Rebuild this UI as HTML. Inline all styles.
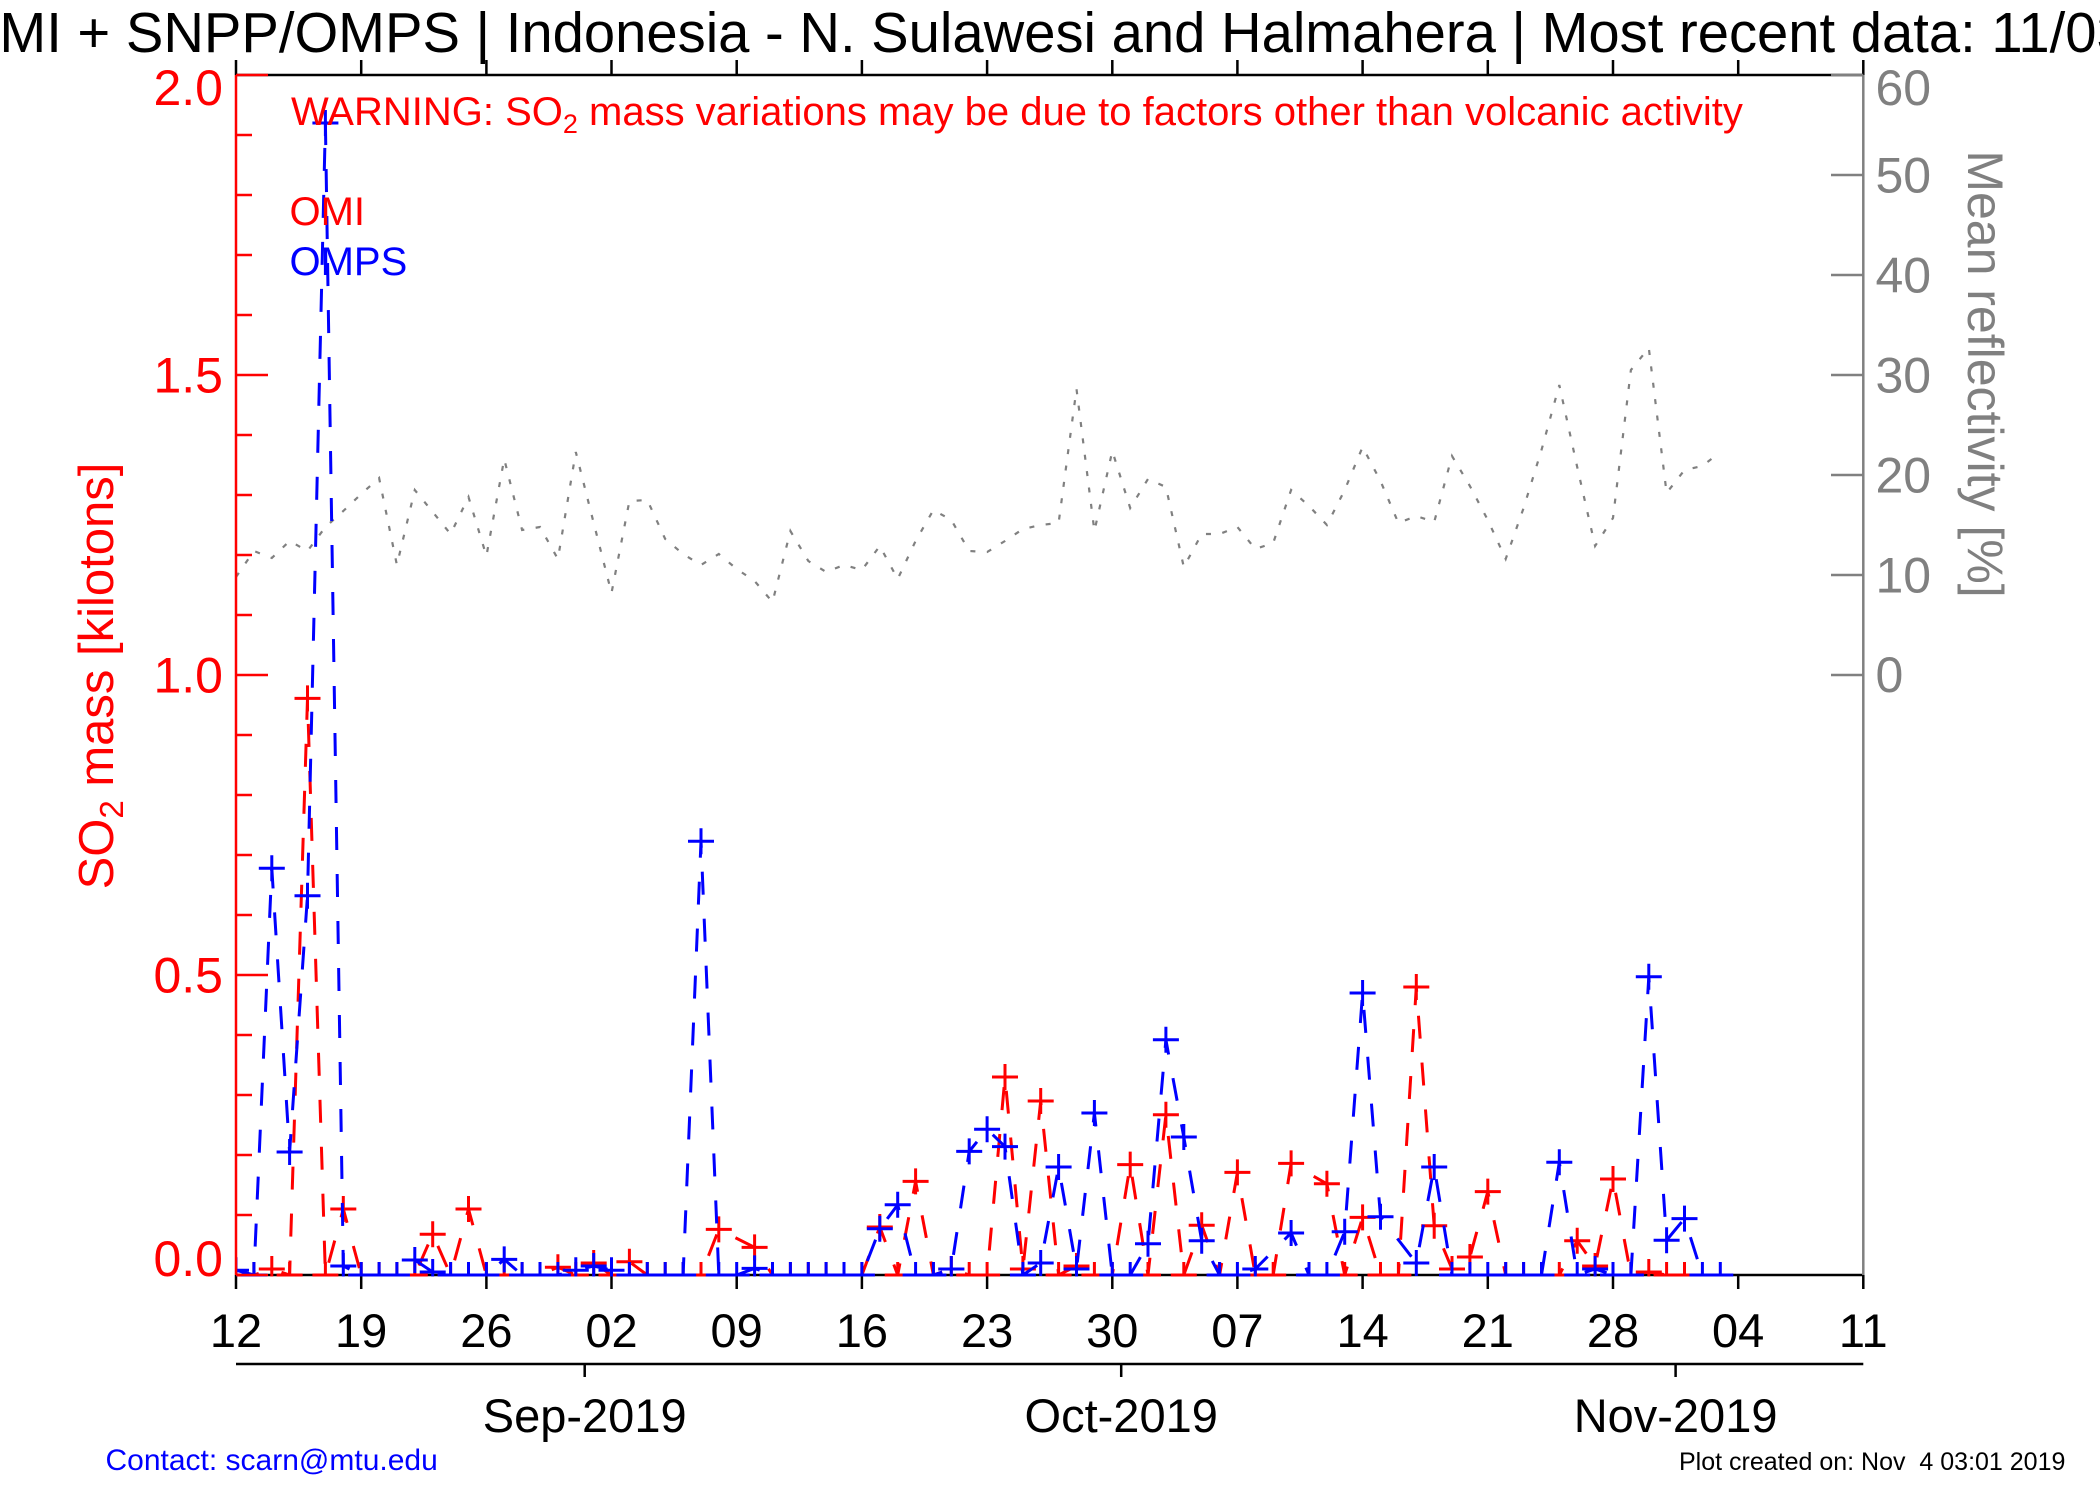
<!DOCTYPE html>
<html>
<head>
<meta charset="utf-8">
<style>
  html, body { margin:0; padding:0; background:#ffffff; }
  body { width:2100px; height:1500px; overflow:hidden; }
  svg { display:block; }
  text { font-family: "Liberation Sans", Arial, Helvetica, sans-serif; }
</style>
</head>
<body>
<svg width="2100" height="1500" viewBox="0 0 2100 1500" xmlns="http://www.w3.org/2000/svg">
  <defs>
    <clipPath id="plotclip">
      <rect x="236" y="75" width="1627" height="1201.5"/>
    </clipPath>
  </defs>
  <rect x="0" y="0" width="2100" height="1500" fill="#ffffff"/>

  <!-- Title -->
  <text x="-44.3" y="52" font-size="56.2" fill="#000">OMI + SNPP/OMPS | Indonesia - N. Sulawesi and Halmahera | Most recent data: 11/03/2019</text>

  <!-- Top axis (black) -->
  <g stroke="#000" stroke-width="2.5" fill="none">
    <line x1="236" y1="75" x2="1863.3" y2="75"/>
    <path d="M236 75V60M361.2 75V60M486.4 75V60M611.5 75V60M736.7 75V60M861.9 75V60M987.1 75V60M1112.3 75V60M1237.4 75V60M1362.6 75V60M1487.8 75V60M1613 75V60M1738.2 75V60M1863.3 75V60"/>
    <!-- Bottom axis -->
    <line x1="236" y1="1275" x2="1863.3" y2="1275"/>
    <path d="M236 1275V1289M361.2 1275V1289M486.4 1275V1289M611.5 1275V1289M736.7 1275V1289M861.9 1275V1289M987.1 1275V1289M1112.3 1275V1289M1237.4 1275V1289M1362.6 1275V1289M1487.8 1275V1289M1613 1275V1289M1738.2 1275V1289M1863.3 1275V1289"/>
    <!-- Month axis -->
    <line x1="236" y1="1364" x2="1863.3" y2="1364"/>
    <path d="M584.7 1364V1377M1121.2 1364V1377M1675.6 1364V1377"/>
  </g>

  <!-- Day labels -->
  <g font-size="47" fill="#000" text-anchor="middle">
    <text x="236" y="1347">12</text>
    <text x="361.2" y="1347">19</text>
    <text x="486.4" y="1347">26</text>
    <text x="611.5" y="1347">02</text>
    <text x="736.7" y="1347">09</text>
    <text x="861.9" y="1347">16</text>
    <text x="987.1" y="1347">23</text>
    <text x="1112.3" y="1347">30</text>
    <text x="1237.4" y="1347">07</text>
    <text x="1362.6" y="1347">14</text>
    <text x="1487.8" y="1347">21</text>
    <text x="1613" y="1347">28</text>
    <text x="1738.2" y="1347">04</text>
    <text x="1863.3" y="1347">11</text>
  </g>
  <!-- Month labels -->
  <g font-size="47" fill="#000" text-anchor="middle">
    <text x="584.7" y="1432">Sep-2019</text>
    <text x="1121.2" y="1432">Oct-2019</text>
    <text x="1675.6" y="1432">Nov-2019</text>
  </g>

  <!-- Data -->
  <g clip-path="url(#plotclip)" fill="none" stroke-linejoin="miter">
    <!-- Reflectivity (gray dotted) -->
    <polyline stroke="#808080" stroke-width="2.2" stroke-dasharray="5 11.5"
      points="236,577 253.9,551 271.8,558 289.6,541 307.5,551 325.4,527 343.3,511 361.2,494 379.1,478 396.9,565 414.8,490 432.7,512 450.6,534 468.5,497 486.4,556 504.2,459 522.1,530 540,527 557.9,559 575.8,452 593.7,523 611.5,593 629.4,501 647.3,500 665.2,539 683.1,554 701,565 718.8,554 736.7,569 754.6,581 772.5,602 790.4,531 808.3,561 826.1,572 844,565 861.9,570 879.8,546 897.7,579 915.6,541 933.4,510 951.3,520 969.2,551 987.1,552 1005,541 1022.9,529 1040.7,525 1058.6,523 1076.5,389 1094.4,531 1112.3,451 1130.2,508 1148,479 1165.9,487 1183.8,567 1201.7,534 1219.6,534 1237.4,527 1255.3,549 1273.2,543 1291.1,490 1309,506 1326.9,525 1344.7,490 1362.6,447 1380.5,481 1398.4,523 1416.3,516 1434.2,522 1452,456 1469.9,486 1487.8,520 1505.7,559 1523.6,508 1541.5,450 1559.3,385 1577.2,467 1595.1,546 1613,518 1630.9,370 1648.8,348 1666.6,493 1684.5,470 1702.4,466 1720.3,452"/>

    <!-- OMI (red dashed) -->
    <polyline stroke="#ff0000" stroke-width="3" stroke-dasharray="23 24"
      points="236,1275 253.9,1275 271.8,1269 289.6,1275 307.5,698.4 325.4,1275 343.3,1209 361.2,1275 379.1,1275 396.9,1275 414.8,1275 432.7,1234.2 450.6,1275 468.5,1209 486.4,1275 504.2,1275 522.1,1275 540,1275 557.9,1267.2 575.8,1275 593.7,1263 611.5,1275 629.4,1261.8 647.3,1275 665.2,1275 683.1,1275 701,1275 718.8,1229.4 754.6,1247.4 772.5,1275 790.4,1275 808.3,1275 826.1,1275 844,1275 861.9,1275 879.8,1227 897.7,1275 915.6,1181.4 933.4,1275 951.3,1269 969.2,1275 987.1,1275 1005,1077 1022.9,1269 1040.7,1101 1058.6,1275 1076.5,1266 1094.4,1275 1112.3,1275 1130.2,1164.6 1148,1275 1165.9,1114.8 1183.8,1275 1201.7,1225.2 1219.6,1275 1237.4,1172.4 1255.3,1275 1273.2,1275 1291.1,1163.4 1326.9,1183.8 1344.7,1275 1362.6,1217.4 1380.5,1275 1398.4,1275 1416.3,987 1434.2,1225.8 1452,1269 1469.9,1257 1487.8,1191.6 1505.7,1275 1523.6,1275 1541.5,1275 1559.3,1275 1577.2,1240.8 1595.1,1266 1613,1179 1630.9,1275 1648.8,1272 1666.6,1275 1684.5,1275"/>
    <path stroke="#ff0000" stroke-width="3" d="M223 1275h26m-13-13v26M240.9 1275h26m-13-13v26M258.8 1269h26m-13-13v26M276.6 1275h26m-13-13v26M294.5 698.4h26m-13-13v26M312.4 1275h26m-13-13v26M330.3 1209h26m-13-13v26M348.2 1275h26m-13-13v26M366.1 1275h26m-13-13v26M383.9 1275h26m-13-13v26M401.8 1275h26m-13-13v26M419.7 1234.2h26m-13-13v26M437.6 1275h26m-13-13v26M455.5 1209h26m-13-13v26M473.4 1275h26m-13-13v26M491.2 1275h26m-13-13v26M509.1 1275h26m-13-13v26M527 1275h26m-13-13v26M544.9 1267.2h26m-13-13v26M562.8 1275h26m-13-13v26M580.7 1263h26m-13-13v26M598.5 1275h26m-13-13v26M616.4 1261.8h26m-13-13v26M634.3 1275h26m-13-13v26M652.2 1275h26m-13-13v26M670.1 1275h26m-13-13v26M688 1275h26m-13-13v26M705.8 1229.4h26m-13-13v26M741.6 1247.4h26m-13-13v26M759.5 1275h26m-13-13v26M777.4 1275h26m-13-13v26M795.3 1275h26m-13-13v26M813.1 1275h26m-13-13v26M831 1275h26m-13-13v26M848.9 1275h26m-13-13v26M866.8 1227h26m-13-13v26M884.7 1275h26m-13-13v26M902.6 1181.4h26m-13-13v26M920.4 1275h26m-13-13v26M938.3 1269h26m-13-13v26M956.2 1275h26m-13-13v26M974.1 1275h26m-13-13v26M992 1077h26m-13-13v26M1009.9 1269h26m-13-13v26M1027.7 1101h26m-13-13v26M1045.6 1275h26m-13-13v26M1063.5 1266h26m-13-13v26M1081.4 1275h26m-13-13v26M1099.3 1275h26m-13-13v26M1117.2 1164.6h26m-13-13v26M1135 1275h26m-13-13v26M1152.9 1114.8h26m-13-13v26M1170.8 1275h26m-13-13v26M1188.7 1225.2h26m-13-13v26M1206.6 1275h26m-13-13v26M1224.4 1172.4h26m-13-13v26M1242.3 1275h26m-13-13v26M1260.2 1275h26m-13-13v26M1278.1 1163.4h26m-13-13v26M1313.9 1183.8h26m-13-13v26M1331.7 1275h26m-13-13v26M1349.6 1217.4h26m-13-13v26M1367.5 1275h26m-13-13v26M1385.4 1275h26m-13-13v26M1403.3 987h26m-13-13v26M1421.2 1225.8h26m-13-13v26M1439 1269h26m-13-13v26M1456.9 1257h26m-13-13v26M1474.8 1191.6h26m-13-13v26M1492.7 1275h26m-13-13v26M1510.6 1275h26m-13-13v26M1528.5 1275h26m-13-13v26M1546.3 1275h26m-13-13v26M1564.2 1240.8h26m-13-13v26M1582.1 1266h26m-13-13v26M1600 1179h26m-13-13v26M1617.9 1275h26m-13-13v26M1635.8 1272h26m-13-13v26M1653.6 1275h26m-13-13v26M1671.5 1275h26m-13-13v26"/>

    <!-- OMPS (blue dashed) -->
    <polyline stroke="#0000ff" stroke-width="3" stroke-dasharray="23 24"
      points="236,1270.2 253.9,1275 271.8,868.2 289.6,1152 307.5,895.8 325.4,123 343.3,1266 361.2,1275 379.1,1275 396.9,1275 414.8,1260 432.7,1272 450.6,1275 468.5,1275 486.4,1275 504.2,1259.4 522.1,1275 540,1275 557.9,1275 575.8,1270.2 593.7,1266 611.5,1270.2 629.4,1275 647.3,1275 665.2,1275 683.1,1275 701,841.2 718.8,1275 736.7,1275 754.6,1268.4 772.5,1275 790.4,1275 808.3,1275 826.1,1275 844,1275 861.9,1275 879.8,1228.8 897.7,1204.8 915.6,1275 933.4,1275 951.3,1269 969.2,1151.4 987.1,1129.2 1005,1146.6 1022.9,1275 1040.7,1263 1058.6,1167 1076.5,1269 1094.4,1113 1112.3,1275 1130.2,1275 1148,1243.8 1165.9,1039.8 1183.8,1137 1201.7,1240.8 1219.6,1275 1237.4,1275 1255.3,1269 1291.1,1233 1309,1275 1326.9,1275 1344.7,1231.8 1362.6,993 1380.5,1216.8 1416.3,1263 1434.2,1167 1452,1275 1469.9,1275 1487.8,1275 1505.7,1275 1523.6,1275 1541.5,1275 1559.3,1162.2 1577.2,1275 1595.1,1269 1613,1275 1630.9,1275 1648.8,976.8 1666.6,1240.2 1684.5,1218.6 1702.4,1275 1720.3,1275"/>
    <path stroke="#0000ff" stroke-width="3" d="M223 1270.2h26m-13-13v26M240.9 1275h26m-13-13v26M258.8 868.2h26m-13-13v26M276.6 1152h26m-13-13v26M294.5 895.8h26m-13-13v26M312.4 123h26m-13-13v26M330.3 1266h26m-13-13v26M348.2 1275h26m-13-13v26M366.1 1275h26m-13-13v26M383.9 1275h26m-13-13v26M401.8 1260h26m-13-13v26M419.7 1272h26m-13-13v26M437.6 1275h26m-13-13v26M455.5 1275h26m-13-13v26M473.4 1275h26m-13-13v26M491.2 1259.4h26m-13-13v26M509.1 1275h26m-13-13v26M527 1275h26m-13-13v26M544.9 1275h26m-13-13v26M562.8 1270.2h26m-13-13v26M580.7 1266h26m-13-13v26M598.5 1270.2h26m-13-13v26M616.4 1275h26m-13-13v26M634.3 1275h26m-13-13v26M652.2 1275h26m-13-13v26M670.1 1275h26m-13-13v26M688 841.2h26m-13-13v26M705.8 1275h26m-13-13v26M723.7 1275h26m-13-13v26M741.6 1268.4h26m-13-13v26M759.5 1275h26m-13-13v26M777.4 1275h26m-13-13v26M795.3 1275h26m-13-13v26M813.1 1275h26m-13-13v26M831 1275h26m-13-13v26M848.9 1275h26m-13-13v26M866.8 1228.8h26m-13-13v26M884.7 1204.8h26m-13-13v26M902.6 1275h26m-13-13v26M920.4 1275h26m-13-13v26M938.3 1269h26m-13-13v26M956.2 1151.4h26m-13-13v26M974.1 1129.2h26m-13-13v26M992 1146.6h26m-13-13v26M1009.9 1275h26m-13-13v26M1027.7 1263h26m-13-13v26M1045.6 1167h26m-13-13v26M1063.5 1269h26m-13-13v26M1081.4 1113h26m-13-13v26M1099.3 1275h26m-13-13v26M1117.2 1275h26m-13-13v26M1135 1243.8h26m-13-13v26M1152.9 1039.8h26m-13-13v26M1170.8 1137h26m-13-13v26M1188.7 1240.8h26m-13-13v26M1206.6 1275h26m-13-13v26M1224.4 1275h26m-13-13v26M1242.3 1269h26m-13-13v26M1278.1 1233h26m-13-13v26M1296 1275h26m-13-13v26M1313.9 1275h26m-13-13v26M1331.7 1231.8h26m-13-13v26M1349.6 993h26m-13-13v26M1367.5 1216.8h26m-13-13v26M1403.3 1263h26m-13-13v26M1421.2 1167h26m-13-13v26M1439 1275h26m-13-13v26M1456.9 1275h26m-13-13v26M1474.8 1275h26m-13-13v26M1492.7 1275h26m-13-13v26M1510.6 1275h26m-13-13v26M1528.5 1275h26m-13-13v26M1546.3 1162.2h26m-13-13v26M1564.2 1275h26m-13-13v26M1582.1 1269h26m-13-13v26M1600 1275h26m-13-13v26M1617.9 1275h26m-13-13v26M1635.8 976.8h26m-13-13v26M1653.6 1240.2h26m-13-13v26M1671.5 1218.6h26m-13-13v26M1689.4 1275h26m-13-13v26M1707.3 1275h26m-13-13v26"/>
  </g>

  <!-- Left axis (red) -->
  <g stroke="#ff0000" stroke-width="2.5" fill="none">
    <line x1="236" y1="75" x2="236" y2="1275"/>
    <path d="M236 75H268M236 375H268M236 675H268M236 975H268M236 1275H268"/>
    <path d="M236 135H252M236 195H252M236 255H252M236 315H252M236 435H252M236 495H252M236 555H252M236 615H252M236 735H252M236 795H252M236 855H252M236 915H252M236 1035H252M236 1095H252M236 1155H252M236 1215H252"/>
  </g>
  <g font-size="50" fill="#ff0000" text-anchor="end">
    <text x="223" y="105">2.0</text>
    <text x="223" y="392.5">1.5</text>
    <text x="223" y="692.5">1.0</text>
    <text x="223" y="992.5">0.5</text>
    <text x="223" y="1276">0.0</text>
  </g>

  <!-- Right axis (gray) -->
  <g stroke="#808080" stroke-width="2.5" fill="none">
    <line x1="1863.3" y1="75" x2="1863.3" y2="1275"/>
    <path d="M1863.3 75H1831M1863.3 175H1831M1863.3 275H1831M1863.3 375H1831M1863.3 475H1831M1863.3 575H1831M1863.3 675H1831"/>
  </g>
  <g font-size="50" fill="#808080" text-anchor="start">
    <text x="1875.5" y="105">60</text>
    <text x="1875.5" y="192.5">50</text>
    <text x="1875.5" y="292.5">40</text>
    <text x="1875.5" y="392.5">30</text>
    <text x="1875.5" y="492.5">20</text>
    <text x="1875.5" y="592.5">10</text>
    <text x="1875.5" y="692">0</text>
  </g>

  <!-- Axis titles -->
  <text transform="translate(113,676) rotate(-90)" text-anchor="middle" font-size="49" fill="#ff0000">SO<tspan font-size="33" dy="10">2</tspan><tspan dy="-10"> mass [kilotons]</tspan></text>
  <text transform="translate(1968,374) rotate(90)" text-anchor="middle" font-size="50" fill="#808080">Mean reflectivity [%]</text>

  <!-- Warning and legend -->
  <text x="291" y="125" font-size="40" fill="#ff0000">WARNING: SO<tspan font-size="27" dy="8">2</tspan><tspan dy="-8"> mass variations may be due to factors other than volcanic activity</tspan></text>
  <text x="289.5" y="225" font-size="40" fill="#ff0000">OMI</text>
  <text x="289.5" y="275" font-size="40" fill="#0000ff">OMPS</text>

  <!-- Footer -->
  <text x="105.5" y="1470" font-size="30" fill="#0000ff">Contact: scarn@mtu.edu</text>
  <text x="1679" y="1470" font-size="25" fill="#000" xml:space="preserve" style="white-space:pre">Plot created on: Nov  4 03:01 2019</text>
</svg>
</body>
</html>
